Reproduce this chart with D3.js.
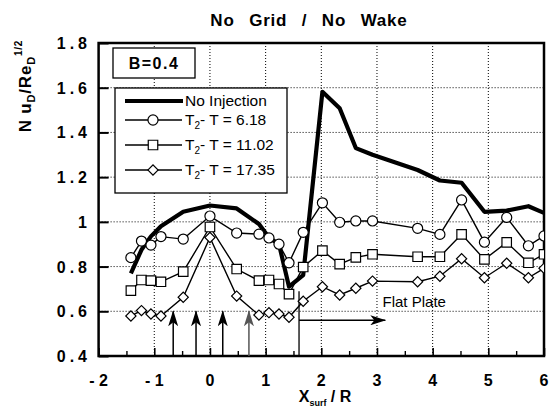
<!DOCTYPE html>
<html>
<head>
<meta charset="utf-8">
<script src="https://cdn.jsdelivr.net/npm/d3@7"></script>
<style>
  html, body { margin: 0; padding: 0; background: #fff; }
  svg { display: block; font-family: "Liberation Sans", Arial, sans-serif; }
</style>
</head>
<body>
<svg id="chart" width="558" height="412"></svg>
<script>
// Measurement stations along the surface, X_surf / R
const xSurf = [-1.42, -1.23, -1.06, -0.88, -0.48, 0, 0.48, 0.88, 1.06, 1.24, 1.42,
               1.675, 2.02, 2.33, 2.62, 2.92, 3.73, 4.13, 4.52, 4.93, 5.33, 5.72, 6.0];

// Nu_D / Re_D^(1/2)
const noInjection = [0.77, 0.875, 0.935, 0.98, 1.045, 1.073, 1.06, 0.99, 0.93, 0.90, 0.71,
                     0.762, 1.582, 1.508, 1.33, 1.30, 1.232, 1.185, 1.175, 1.045, 1.05, 1.07, 1.04];
const dT618 = [0.84, 0.914, 0.896, 0.934, 0.923, 1.026, 0.95, 0.945, 0.928, 0.90, 0.817,
               0.953, 1.085, 0.998, 1.004, 1.004, 0.971, 0.944, 1.098, 0.909, 1.02, 0.893, 0.937];
const dT1102 = [0.692, 0.74, 0.737, 0.732, 0.777, 0.977, 0.789, 0.737, 0.74, 0.722, 0.677,
                0.798, 0.871, 0.811, 0.841, 0.855, 0.844, 0.844, 0.944, 0.832, 0.908, 0.817, 0.855];
const dT1735 = [0.579, 0.603, 0.588, 0.579, 0.663, 0.93, 0.668, 0.583, 0.594, 0.588, 0.573,
                0.645, 0.71, 0.673, 0.703, 0.735, 0.732, 0.757, 0.835, 0.75, 0.815, 0.75, 0.792];

const xTicks = [-2, -1, 0, 1, 2, 3, 4, 5, 6];
const xTickLabels = ["- 2", "- 1", "0", "1", "2", "3", "4", "5", "6"];
const yTicks = [0.4, 0.6, 0.8, 1.0, 1.2, 1.4, 1.6, 1.8];
const yTickLabels = ["0.4", "0.6", "0.8", "1", "1.2", "1.4", "1.6", "1.8"];

// Injection hole locations and the flat-plate start
const holeX = [-0.66, -0.25, 0.23, 0.70];
const holeTip = 0.6;
const plateStart = 1.6, plateLineTop = 0.69, plateArrowY = 0.56, plateArrowEnd = 3.15;

const legendLabels = ["No Injection", "6.18", "11.02", "17.35"];

const svg = d3.select("#chart");
const L = 98.6, R = 544, T = 43, B = 356;

const x = d3.scaleLinear().domain([-2, 6]).range([L, R]);
const y = d3.scaleLinear().domain([0.4, 1.8]).range([B, T]);

// arrow heads
const defs = svg.append("defs");
function arrowMarker(id, color) {
  defs.append("marker").attr("id", id)
    .attr("viewBox", "0 0 16 10").attr("refX", 15).attr("refY", 5)
    .attr("markerWidth", 16).attr("markerHeight", 10)
    .attr("markerUnits", "userSpaceOnUse").attr("orient", "auto")
    .append("path").attr("d", "M0,0 L16,5 L0,10 L4,5 Z").attr("fill", color);
}
arrowMarker("ah", "#000");
arrowMarker("ahGray", "#555");
defs.append("clipPath").attr("id", "plotClip")
  .append("rect").attr("x", L).attr("y", T).attr("width", R - L).attr("height", B - T);

// grid
const grid = svg.append("g").attr("stroke", "#000").attr("stroke-width", 1)
  .attr("stroke-dasharray", "1,2");
grid.selectAll(".gx").data(xTicks.slice(1, -1)).join("line")
  .attr("x1", d => x(d)).attr("x2", d => x(d)).attr("y1", T).attr("y2", B);
grid.selectAll(".gy").data(yTicks.slice(1, -1)).join("line")
  .attr("y1", d => y(d)).attr("y2", d => y(d)).attr("x1", L).attr("x2", R);

// axes with inward ticks
const xMinor = d3.range(-1.5, 6, 1);
const gxAxis = svg.append("g").attr("transform", `translate(0,${B})`)
  .call(d3.axisBottom(x).tickValues(xTicks).tickSizeInner(-8).tickSizeOuter(0).tickFormat(""));
gxAxis.select(".domain").remove();
gxAxis.selectAll("line").attr("stroke-width", 1.6);
const gxMinor = svg.append("g").attr("transform", `translate(0,${B})`)
  .call(d3.axisBottom(x).tickValues(xMinor).tickSizeInner(-5).tickSizeOuter(0).tickFormat(""));
gxMinor.select(".domain").remove();
gxMinor.selectAll("line").attr("stroke-width", 1.4);

const gyAxis = svg.append("g").attr("transform", `translate(${L},0)`)
  .call(d3.axisLeft(y).tickValues(yTicks).tickSizeInner(-10).tickSizeOuter(0).tickFormat(""));
gyAxis.select(".domain").remove();
gyAxis.selectAll("line").attr("stroke-width", 2);

// tick labels
svg.append("g").selectAll("text").data(xTicks).join("text")
  .attr("x", d => x(d)).attr("y", B + 30).attr("text-anchor", "middle")
  .attr("font-size", 16).attr("font-weight", "bold")
  .text((d, i) => xTickLabels[i]);
svg.append("g").selectAll("text").data(yTicks).join("text")
  .attr("x", 91).attr("y", d => y(d) + 6).attr("text-anchor", "end")
  .attr("font-size", 16).attr("font-weight", "bold").attr("letter-spacing", "4")
  .text((d, i) => yTickLabels[i]);

// frame
svg.append("rect").attr("x", L).attr("y", T).attr("width", R - L).attr("height", B - T)
  .attr("fill", "none").attr("stroke", "#000").attr("stroke-width", 2.5);

// flat plate marker and injection hole arrows
const ann = svg.append("g");
ann.selectAll(".hole").data(holeX).join("line")
  .attr("x1", d => x(d)).attr("x2", d => x(d))
  .attr("y1", B).attr("y2", y(holeTip))
  .attr("stroke", (d, i) => i === 3 ? "#555" : "#000").attr("stroke-width", 1.5)
  .attr("marker-end", (d, i) => i === 3 ? "url(#ahGray)" : "url(#ah)");
ann.append("line").attr("x1", x(plateStart)).attr("x2", x(plateStart))
  .attr("y1", B).attr("y2", y(plateLineTop)).attr("stroke", "#000").attr("stroke-width", 1.3);
ann.append("line").attr("x1", x(plateStart)).attr("x2", x(plateArrowEnd))
  .attr("y1", y(plateArrowY)).attr("y2", y(plateArrowY))
  .attr("stroke", "#000").attr("stroke-width", 1.3).attr("marker-end", "url(#ah)");
ann.append("text").attr("x", x(3.1)).attr("y", y(0.62))
  .attr("font-size", 15).text("Flat Plate");

// series
const line = d3.line().x(d => x(d[0])).y(d => y(d[1]));
const plot = svg.append("g").attr("clip-path", "url(#plotClip)");
const pairs = vals => xSurf.map((d, i) => [d, vals[i]]);

plot.append("path").datum(pairs(noInjection)).attr("d", line)
  .attr("fill", "none").attr("stroke", "#000").attr("stroke-width", 4.2)
  .attr("stroke-linejoin", "round");

// diamonds are squares turned by 45 degrees
const series = [
  { vals: dT618, sym: d3.symbolCircle, size: 80, rot: 0 },
  { vals: dT1102, sym: d3.symbolSquare, size: 90, rot: 0 },
  { vals: dT1735, sym: d3.symbolSquare, size: 52, rot: 45 }
];
series.forEach(s => {
  plot.append("path").datum(pairs(s.vals)).attr("d", line)
    .attr("fill", "none").attr("stroke", "#000").attr("stroke-width", 1.4);
});
series.forEach(s => {
  plot.append("g").selectAll("path").data(pairs(s.vals)).join("path")
    .attr("transform", d => `translate(${x(d[0])},${y(d[1])}) rotate(${s.rot})`)
    .attr("d", d3.symbol().type(s.sym).size(s.size))
    .attr("fill", "#fff").attr("stroke", "#000").attr("stroke-width", 1.2);
});

// legend
const lg = svg.append("g");
lg.append("rect").attr("x", 115).attr("y", 88).attr("width", 172).attr("height", 105)
  .attr("fill", "#fff").attr("stroke", "#000").attr("stroke-width", 1.3);
const rowY = [101, 120, 145, 170];
lg.append("line").attr("x1", 125).attr("x2", 183).attr("y1", rowY[0]).attr("y2", rowY[0])
  .attr("stroke", "#000").attr("stroke-width", 4.2);
series.forEach((s, i) => {
  const ry = rowY[i + 1];
  lg.append("line").attr("x1", 125).attr("x2", 182).attr("y1", ry).attr("y2", ry)
    .attr("stroke", "#000").attr("stroke-width", 1.3);
  lg.append("path").attr("transform", `translate(153,${ry}) rotate(${s.rot})`)
    .attr("d", d3.symbol().type(s.sym).size(s.size))
    .attr("fill", "#fff").attr("stroke", "#000").attr("stroke-width", 1.2);
});
lg.append("text").attr("x", 185).attr("y", rowY[0] + 5).attr("font-size", 15.5)
  .text(legendLabels[0]);
legendLabels.slice(1).forEach((lab, i) => {
  const t = lg.append("text").attr("x", 185).attr("y", rowY[i + 1] + 5).attr("font-size", 15.5);
  t.append("tspan").text("T");
  t.append("tspan").attr("font-size", 10).attr("dy", 4).text("2");
  t.append("tspan").attr("dy", -4).text("- T = " + lab);
});

// B = 0.4 label box
svg.append("rect").attr("x", 113).attr("y", 48).attr("width", 82).attr("height", 30)
  .attr("fill", "#fff").attr("stroke", "#000").attr("stroke-width", 1.3);
svg.append("text").attr("x", 154).attr("y", 69).attr("text-anchor", "middle")
  .attr("font-size", 16).attr("font-weight", "bold").attr("letter-spacing", "1.5")
  .text("B=0.4");

// title
svg.append("text").attr("x", 309).attr("y", 26).attr("text-anchor", "middle")
  .attr("font-size", 17).attr("font-weight", "bold").attr("word-spacing", "9")
  .attr("letter-spacing", "0.8")
  .text("No Grid / No Wake");

// axis titles
const yt = svg.append("text").attr("transform", "translate(31,86) rotate(-90)")
  .attr("text-anchor", "middle").attr("font-size", 17).attr("font-weight", "bold")
  .attr("letter-spacing", "0.8");
yt.append("tspan").text("N u");
yt.append("tspan").attr("font-size", 11).attr("dy", 4).text("D");
yt.append("tspan").attr("dy", -4).text("/Re");
yt.append("tspan").attr("font-size", 11).attr("dy", 4).text("D");
yt.append("tspan").attr("font-size", 10).attr("dy", -13).text("1/2");

const xt = svg.append("text").attr("x", 325).attr("y", 402).attr("text-anchor", "middle")
  .attr("font-size", 16).attr("font-weight", "bold");
xt.append("tspan").text("X");
xt.append("tspan").attr("font-size", 9).attr("dy", 4).text("surf");
xt.append("tspan").attr("dy", -4).text(" / R");
</script>
</body>
</html>
